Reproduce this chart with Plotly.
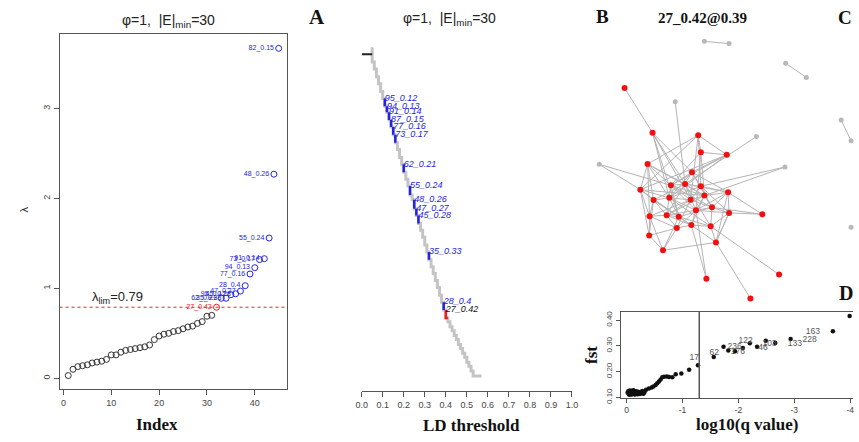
import plotly.graph_objects as go

W, H = 859, 442

# ---------------- Panel 1 : lambda by index ----------------
lam_index = list(range(1, 46))
lam_values = [0.03, 0.10, 0.13, 0.14, 0.15, 0.17, 0.18, 0.19, 0.21, 0.26,
              0.26, 0.29, 0.31, 0.32, 0.33, 0.34, 0.35, 0.37, 0.43, 0.47,
              0.49, 0.50, 0.52, 0.53, 0.55, 0.57, 0.58, 0.61, 0.63, 0.69,
              0.70, 0.79, 0.89, 0.89, 0.93, 0.94, 0.97, 1.03, 1.16, 1.23,
              1.32, 1.33, 1.56, 2.27, 3.67]
lam_labels = [""] * 31 + ["27_0.42", "62_0.21", "35_0.33", "95_0.12", "45_0.28",
                          "47_0.27", "28_0.4", "77_0.16", "94_0.13", "73_0.17",
                          "91_0.14", "55_0.24", "48_0.26", "82_0.15"]
lam_group = ["black"] * 31 + ["red"] + ["blue"] * 13
lambda_lim = 0.79

# ---------------- Panel A : LD threshold staircase ----------------
ld_thr = [0.05, 0.06, 0.07, 0.08, 0.09, 0.10, 0.11, 0.12, 0.13, 0.14, 0.15,
          0.16, 0.17, 0.18, 0.19, 0.20, 0.21, 0.22, 0.23, 0.24, 0.25, 0.26,
          0.27, 0.28, 0.29, 0.30, 0.31, 0.32, 0.33, 0.34, 0.35, 0.36, 0.37,
          0.38, 0.39, 0.40, 0.41, 0.42, 0.43, 0.44, 0.45, 0.46, 0.47, 0.48,
          0.49, 0.50, 0.51, 0.52, 0.53, 0.54, 0.55, 0.56, 0.57]
ld_depth = [47, 62, 69, 77, 84, 92, 99, 107, 113, 121, 128,
            136, 144, 151, 159, 166, 174, 181, 188, 197, 202, 211,
            218, 226, 233, 240, 248, 255, 263, 270, 277, 284, 291,
            299, 306, 314, 322, 326, 331, 335, 340, 344, 349, 353,
            358, 362, 367, 371, 376, 381, 381, 381, 381]
ld_root_x = [0.0, 0.05]
ld_root_depth = 54
ld_modules = ["95_0.12", "94_0.13", "91_0.14", "87_0.15", "77_0.16", "73_0.17",
              "62_0.21", "55_0.24", "48_0.26", "47_0.27", "45_0.28", "35_0.33",
              "28_0.4"]
ld_mod_thr = [0.12, 0.13, 0.14, 0.15, 0.16, 0.17, 0.21, 0.24, 0.26, 0.27, 0.28,
              0.33, 0.40]
ld_sel_name = "27_0.42"
ld_sel_thr = 0.42

# ---------------- Panel B : network ----------------
node_x = [627.3, 655.7, 702.0, 704.7, 731.0, 650.7, 695.7, 674.3, 688.7, 704.7,
          643.3, 732.3, 708.3, 672.7, 694.3, 656.7, 716.0, 699.7, 733.3, 767.0,
          652.7, 670.0, 682.3, 695.0, 714.7, 680.3, 652.3, 720.0, 666.3, 784.0,
          710.3, 755.0,
          708.3, 733.3, 790.7, 811.7, 678.7, 761.0, 601.7, 790.0, 847.0, 857.0, 857.0]
node_y = [88.3, 134.0, 136.3, 153.7, 156.3, 165.7, 174.0, 187.3, 186.0, 188.3,
          191.7, 194.3, 197.7, 200.0, 202.0, 202.3, 209.7, 212.7, 215.3, 216.7,
          218.7, 217.7, 219.3, 227.7, 229.0, 230.7, 238.3, 245.3, 253.3, 278.0,
          282.3, 302.3,
          41.0, 43.3, 63.3, 77.7, 102.3, 137.7, 166.0, 168.7, 121.0, 142.0, 230.0]
node_in_module = [True] * 32 + [False] * 11
edges = [(0, 1), (1, 6), (1, 8), (1, 13), (1, 14), (1, 22), (36, 8),
         (2, 3), (2, 4), (2, 5), (2, 10), (2, 9), (2, 14),
         (3, 4), (3, 7), (3, 12), (3, 17), (4, 6), (4, 7), (4, 10), (4, 13),
         (37, 8), (38, 10), (38, 7), (39, 9), (39, 12),
         (5, 7), (5, 10), (5, 13), (5, 15), (5, 20), (5, 12), (5, 8),
         (6, 7), (6, 9), (6, 11), (6, 13), (6, 16), (6, 21),
         (7, 8), (7, 12), (7, 14), (7, 16), (7, 17), (7, 21), (7, 22),
         (8, 9), (8, 12), (8, 15), (8, 17), (8, 24), (8, 11),
         (9, 11), (9, 14), (9, 16), (9, 13), (9, 18),
         (10, 13), (10, 15), (10, 20), (10, 26), (10, 12), (10, 22),
         (11, 12), (11, 18), (11, 16), (11, 17), (11, 19),
         (12, 14), (12, 17), (12, 21), (12, 23), (12, 16),
         (13, 14), (13, 15), (13, 17), (13, 22), (13, 24),
         (14, 16), (14, 20), (14, 21), (14, 25),
         (15, 20), (15, 21), (15, 22), (15, 26), (15, 23),
         (16, 17), (16, 18), (16, 24), (16, 19), (16, 22),
         (17, 21), (17, 23), (17, 25), (17, 18),
         (18, 19), (18, 24), (18, 27),
         (20, 21), (20, 26), (20, 25), (20, 28),
         (21, 22), (21, 25), (21, 23), (22, 23), (22, 24), (22, 28),
         (23, 24), (23, 25), (23, 27), (24, 27), (24, 29), (25, 26), (25, 28),
         (26, 28), (28, 27), (27, 11), (27, 18), (30, 23), (30, 17), (27, 31),
         (32, 33), (34, 35), (40, 41)]

# ---------------- Panel D : fst vs log10(q) ----------------
d_logq = [-0.02, -0.03, -0.04, -0.05, -0.06, -0.07, -0.08, -0.09, -0.10, -0.11,
          -0.12, -0.13, -0.14, -0.15, -0.16, -0.17, -0.18, -0.19, -0.20, -0.21,
          -0.22, -0.24, -0.26, -0.28, -0.30, -0.32, -0.05, -0.08, -0.12, -0.15,
          -0.35, -0.40, -0.45, -0.48, -0.52, -0.55, -0.58, -0.61, -0.64, -0.67,
          -0.72, -0.76, -0.82, -0.88, -0.98, -1.12, -1.277, -1.56, -1.735, -1.82,
          -1.94, -2.08, -2.205, -2.335, -2.49, -2.66, -2.935, -3.69, -3.99]
d_fst = [0.118, 0.124, 0.113, 0.121, 0.127, 0.115, 0.119, 0.125, 0.112, 0.122,
         0.117, 0.126, 0.113, 0.120, 0.124, 0.114, 0.118, 0.123, 0.112, 0.116,
         0.121, 0.113, 0.117, 0.125, 0.114, 0.119, 0.110, 0.111, 0.128, 0.111,
         0.130, 0.135, 0.138, 0.142, 0.148, 0.155, 0.162, 0.170, 0.178, 0.180,
         0.181, 0.179, 0.178, 0.190, 0.193, 0.207, 0.225, 0.257, 0.297, 0.282,
         0.279, 0.292, 0.310, 0.297, 0.320, 0.311, 0.327, 0.357, 0.416]
d_lab_text = ["17", "62", "122", "236", "176", "46", "103", "133", "163", "228"]
d_lab_x = [-1.212, -1.57, -2.129, -1.935, -1.993, -2.441, -2.557, -3.011, -3.333, -3.275]
d_lab_y = [0.2527, 0.273, 0.319, 0.295, 0.278, 0.291, 0.308, 0.308, 0.355, 0.323]
q_cut = -1.301

# ================= figure =================
SANS = "Liberation Sans, Arial, sans-serif"
SERIF = "Liberation Serif, Times New Roman, serif"
BLUE = "#2424dc"
RED = "#e8201e"
fig = go.Figure()

# Panel 1
col = {"black": "#333333", "red": RED, "blue": BLUE}
for g in ["black", "red", "blue"]:
    xs = [i for i, gg in zip(lam_index, lam_group) if gg == g]
    ys = [v for v, gg in zip(lam_values, lam_group) if gg == g]
    ts = [t for t, gg in zip(lam_labels, lam_group) if gg == g]
    fig.add_trace(go.Scatter(x=xs, y=ys,
                             mode="markers" if g == "black" else "markers+text",
                             text=None if g == "black" else ts,
                             textposition="middle left",
                             textfont=dict(family=SANS, size=7, color=col[g]),
                             marker=dict(symbol="circle-open", size=6,
                                         color=col[g], line=dict(width=1)),
                             xaxis="x", yaxis="y", showlegend=False,
                             hoverinfo="skip", cliponaxis=False))
fig.add_shape(type="line", xref="x domain", yref="y", x0=0, x1=1,
              y0=lambda_lim, y1=lambda_lim,
              line=dict(color=RED, width=1, dash="dot"))
fig.add_annotation(x=11.4, y=0.90, xref="x", yref="y",
                   text="λ<sub>lim</sub>=0.79", showarrow=False,
                   font=dict(family=SANS, size=13, color="#222"))

# Panel A staircase
fig.add_trace(go.Scatter(x=ld_thr, y=ld_depth, mode="lines",
                         line=dict(color="#c4c4c4", width=3, shape="vh"),
                         xaxis="x2", yaxis="y2", showlegend=False, hoverinfo="skip"))
fig.add_trace(go.Scatter(x=ld_root_x, y=[ld_root_depth] * 2, mode="lines",
                         line=dict(color="#222", width=2),
                         xaxis="x2", yaxis="y2", showlegend=False, hoverinfo="skip"))
depth_of = {round(t, 2): d for t, d in zip(ld_thr, ld_depth)}
bx, by, lx, ly = [], [], [], []
for t in ld_mod_thr:
    t0 = round(t - 0.01, 2)
    bx += [t0, t0, None]
    by += [depth_of[t0], depth_of[round(t, 2)], None]
    lx.append(t0)
    ly.append(depth_of[t0])
fig.add_trace(go.Scatter(x=bx, y=by, mode="lines", line=dict(color=BLUE, width=2.5),
                         xaxis="x2", yaxis="y2", showlegend=False, hoverinfo="skip"))
fig.add_trace(go.Scatter(x=lx, y=ly, mode="text", text=ld_modules,
                         textposition="middle right",
                         textfont=dict(family=SANS, size=9, color=BLUE, style="italic"),
                         xaxis="x2", yaxis="y2", showlegend=False, hoverinfo="skip",
                         cliponaxis=False))
s0 = round(ld_sel_thr - 0.02, 2)
s1 = round(ld_sel_thr - 0.01, 2)
fig.add_trace(go.Scatter(x=[s0, s0, s1], y=[depth_of[s0], depth_of[s1], depth_of[s1]],
                         mode="lines", line=dict(color=RED, width=2.5),
                         xaxis="x2", yaxis="y2", showlegend=False, hoverinfo="skip"))
fig.add_trace(go.Scatter(x=[s0], y=[depth_of[s0]], mode="text", text=[ld_sel_name],
                         textposition="middle right",
                         textfont=dict(family=SANS, size=9, color="#111", style="italic"),
                         xaxis="x2", yaxis="y2", showlegend=False, hoverinfo="skip",
                         cliponaxis=False))

# Panel B network
ex, ey = [], []
for a, b in edges:
    ex += [node_x[a], node_x[b], None]
    ey += [node_y[a], node_y[b], None]
fig.add_trace(go.Scatter(x=ex, y=ey, mode="lines", line=dict(color="#b4b4b4", width=1),
                         xaxis="x3", yaxis="y3", showlegend=False, hoverinfo="skip"))
for flag, c, s in [(False, "#b8b8b8", 5), (True, "#f01010", 6)]:
    fig.add_trace(go.Scatter(x=[x for x, f in zip(node_x, node_in_module) if f == flag],
                             y=[y for y, f in zip(node_y, node_in_module) if f == flag],
                             mode="markers", marker=dict(color=c, size=s),
                             xaxis="x3", yaxis="y3", showlegend=False,
                             hoverinfo="skip", cliponaxis=False))

# Panel D
fig.add_trace(go.Scatter(x=d_logq, y=d_fst, mode="markers",
                         marker=dict(color="#111", size=4.5),
                         xaxis="x4", yaxis="y4", showlegend=False,
                         hoverinfo="skip", cliponaxis=False))
fig.add_trace(go.Scatter(x=d_lab_x, y=d_lab_y, mode="text", text=d_lab_text,
                         textfont=dict(family=SANS, size=8.5, color="#555"),
                         xaxis="x4", yaxis="y4", showlegend=False, hoverinfo="skip"))
fig.add_shape(type="line", xref="x4", yref="y4 domain", x0=q_cut, x1=q_cut,
              y0=0, y1=1, line=dict(color="#555", width=1.5))

# Text annotations (titles, labels)
def ann(text, px, py, size, family=SANS, bold=False, angle=0, color="#222"):
    t = "<b>%s</b>" % text if bold else text
    fig.add_annotation(x=px / W, y=1 - py / H, xref="paper", yref="paper",
                       text=t, showarrow=False, textangle=angle,
                       xanchor="center", yanchor="middle",
                       font=dict(family=family, size=size, color=color))

ann("φ=1,\u00a0 |E|<sub>min</sub>=30", 165, 20, 14)
ann("φ=1,\u00a0 |E|<sub>min</sub>=30", 450, 18, 14)
ann("A", 315, 16, 21, SERIF, True, color="#111")
ann("B", 605, 16, 19, SERIF, True, color="#111")
ann("27_0.42@0.39", 706, 17, 15, SERIF, True, color="#111")
ann("C", 851, 17, 19, SERIF, True, color="#111")
ann("D", 852, 297, 20, SERIF, True, color="#111")
ann("Index", 153, 430, 17, SERIF, True, color="#111")
ann("λ", 18, 212, 11, angle=-90)
ann("LD threshold", 472, 431, 17, SERIF, True, color="#111")
ann("log10(q value)", 752, 430, 17, SERIF, True, color="#111")
ann("fst", 594, 360, 17, SERIF, True, angle=-90, color="#111")

tickfont = dict(family=SANS, size=9, color="#444")
common = dict(showgrid=False, zeroline=False, ticks="outside", tickfont=tickfont,
              linecolor="#555", tickcolor="#555", linewidth=1)

fig.update_layout(
    width=W, height=H, margin=dict(l=0, r=0, t=0, b=0),
    paper_bgcolor="white", plot_bgcolor="white",
    xaxis=dict(domain=[54.3 / W, 285 / W], range=[-0.82, 46.74], anchor="y",
               tickvals=[0, 10, 20, 30, 40], showline=True, mirror=True, ticklen=5,
               **common),
    yaxis=dict(domain=[1 - 394.3 / H, 1 - 33.3 / H], range=[-0.12, 3.832], anchor="x",
               tickvals=[0, 1, 2, 3], tickangle=-90, showline=True, mirror=True,
               ticklen=5, **common),
    xaxis2=dict(domain=[360.7 / W, 574 / W], range=[0, 1], anchor="y2",
                tickvals=[0.0, 0.1, 0.2, 0.3, 0.4, 0.5, 0.6, 0.7, 0.8, 0.9, 1.0],
                ticktext=["0.0", "0.1", "0.2", "0.3", "0.4", "0.5", "0.6", "0.7",
                          "0.8", "0.9", "1.0"],
                showline=True, ticklen=5, **common),
    yaxis2=dict(domain=[1 - 396 / H, 1 - 40 / H], range=[396, 40], anchor="x2",
                visible=False),
    xaxis3=dict(domain=[590 / W, 1], range=[590, 859], anchor="y3", visible=False),
    yaxis3=dict(domain=[1 - 310 / H, 1 - 30 / H], range=[310, 30], anchor="x3",
                visible=False),
    xaxis4=dict(domain=[623.3 / W, 1], range=[0.106, -4.05], anchor="y4",
                tickvals=[0, -1, -2, -3, -4], ticktext=["0", "-1", "-2", "-3", "-4"],
                showline=True, mirror=True, ticklen=4, **common),
    yaxis4=dict(domain=[1 - 403.3 / H, 1 - 315.7 / H], range=[0.098, 0.433],
                anchor="x4", tickvals=[0.1, 0.2, 0.3, 0.4],
                ticktext=["0.10", "0.20", "0.30", "0.40"], tickangle=-90,
                showline=True, ticklen=4, **common),
)
fig.update_xaxes(tickfont_size=8.5, selector=dict(anchor="y4"))
fig.update_yaxes(tickfont_size=8, selector=dict(anchor="x4"))

fig.write_html("out.html",
               config={"displayModeBar": False, "staticPlot": True},
               post_script="document.body.style.margin='0';"
                           "document.body.style.padding='0';"
                           "document.documentElement.style.overflow='hidden';")
